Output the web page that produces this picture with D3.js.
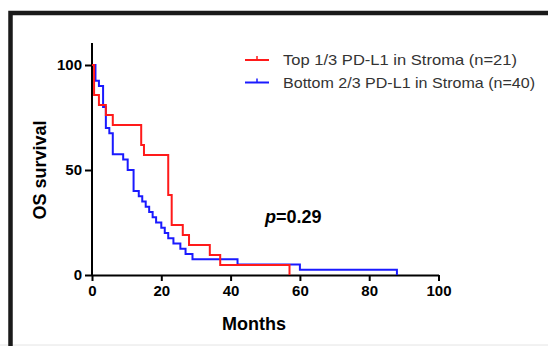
<!DOCTYPE html>
<html>
<head>
<meta charset="utf-8">
<script src="https://d3js.org/d3.v7.min.js"></script>
<style>
  body { margin: 0; background: #fff; }
  svg { display: block; font-family: "Liberation Sans", Arial, sans-serif; }
</style>
</head>
<body>
<script>
// survival data (months, percent)
var redTimes = [0, 0.6, 2, 4, 6, 14.2, 15, 22, 23, 26.2, 28, 34, 37, 57];
var redSurv  = [100, 85.7, 81.0, 76.2, 71.4, 61.9, 57.1, 38.1, 23.8, 19.0, 14.3, 9.5, 4.8, 0];

var blueTimes = [0, 1, 2, 3.2, 4, 5, 6, 9, 10.3, 12, 13.5, 14.5, 15.5, 16.5, 17.5, 18.5, 20, 21, 22, 23.5, 25.5, 27, 29, 42, 60, 88];
var blueSurv  = [100, 92.5, 90, 80, 70, 67.5, 57.5, 55, 50, 40, 37.5, 35, 32.5, 30, 27.5, 25, 22.5, 20, 17.5, 15, 12.5, 10, 7.5, 5, 2.5, 0];

var xTicks = [0, 20, 40, 60, 80, 100];
var yTicks = [0, 50, 100];

var seriesNames = ["Top 1/3 PD-L1 in Stroma (n=21)", "Bottom 2/3 PD-L1 in Stroma (n=40)"];
var seriesColors = ["#ff1a1a", "#1a1aff"];
var legendWidths = [234, 252];

var width = 548, height = 346;

var svg = d3.select("body").append("svg")
    .attr("width", width)
    .attr("height", height);

// frame
svg.append("line").attr("x1", 0).attr("x2", width).attr("y1", 345).attr("y2", 345)
    .attr("stroke", "#e4e4e4").attr("stroke-width", 1);
svg.append("path")
    .attr("d", "M10.5," + height + "V13H" + width)
    .attr("fill", "none").attr("stroke", "#1a1a1a").attr("stroke-width", 4.5);

var x = d3.scaleLinear().domain([0, 100]).range([92, 438.5]);
var y = d3.scaleLinear().domain([0, 100]).range([275, 65]);

// axes
var xAxis = svg.append("g")
    .attr("transform", "translate(0," + y(0) + ")")
    .call(d3.axisBottom(x).tickValues(xTicks).tickSize(6).tickSizeOuter(0).tickPadding(4));
var yAxis = svg.append("g")
    .attr("transform", "translate(" + x(0) + ",0)")
    .call(d3.axisLeft(y).tickValues(yTicks).tickSize(7).tickSizeOuter(0).tickPadding(3));
yAxis.select(".domain").remove();
yAxis.append("line").attr("x1", 0).attr("x2", 0).attr("y1", y(0)).attr("y2", y(110.5))
    .attr("stroke", "#000").attr("stroke-width", 2);

[xAxis, yAxis].forEach(function(g){
    g.selectAll("line, path").attr("stroke", "#000").attr("stroke-width", 2);
    g.selectAll("text")
        .attr("fill", "#000")
        .style("font-size", "15px")
        .style("font-weight", "bold")
        .style("font-family", "Liberation Sans, Arial, sans-serif");
});

// axis titles
svg.append("text")
    .attr("x", 254).attr("y", 330)
    .attr("text-anchor", "middle")
    .style("font-size", "18px").style("font-weight", "bold")
    .text("Months");
svg.append("text")
    .attr("transform", "translate(46,170) rotate(-90)")
    .attr("text-anchor", "middle")
    .style("font-size", "18px").style("font-weight", "bold")
    .text("OS survival");

// curves
var line = d3.line()
    .x(function(d){ return x(d[0]); })
    .y(function(d){ return y(d[1]); })
    .curve(d3.curveStepAfter);

var blueData = blueTimes.map(function(t, i){ return [t, blueSurv[i]]; });
var redData = redTimes.map(function(t, i){ return [t, redSurv[i]]; });

svg.append("path").datum(blueData)
    .attr("d", line).attr("fill", "none")
    .attr("stroke", seriesColors[1]).attr("stroke-width", 2);
svg.append("path").datum(redData)
    .attr("d", line).attr("fill", "none")
    .attr("stroke", seriesColors[0]).attr("stroke-width", 2);

// p value
var pText = svg.append("text")
    .attr("x", 265).attr("y", 223)
    .style("font-size", "18px").style("font-weight", "bold");
pText.append("tspan").style("font-style", "italic").text("p");
pText.append("tspan").text("=0.29");

// legend
var legend = svg.append("g");
seriesNames.forEach(function(name, i){
    var ly = 60 + i * 22.5;
    legend.append("line")
        .attr("x1", 245).attr("x2", 269).attr("y1", ly).attr("y2", ly)
        .attr("stroke", seriesColors[i]).attr("stroke-width", 2);
    legend.append("line")
        .attr("x1", 257).attr("x2", 257).attr("y1", ly).attr("y2", ly - 4)
        .attr("stroke", seriesColors[i]).attr("stroke-width", 1.5);
    legend.append("text")
        .attr("x", 283).attr("y", ly + 5)
        .attr("fill", "#333")
        .attr("textLength", legendWidths[i])
        .attr("lengthAdjust", "spacingAndGlyphs")
        .style("font-size", "14.5px")
        .text(name);
});
</script>
</body>
</html>
